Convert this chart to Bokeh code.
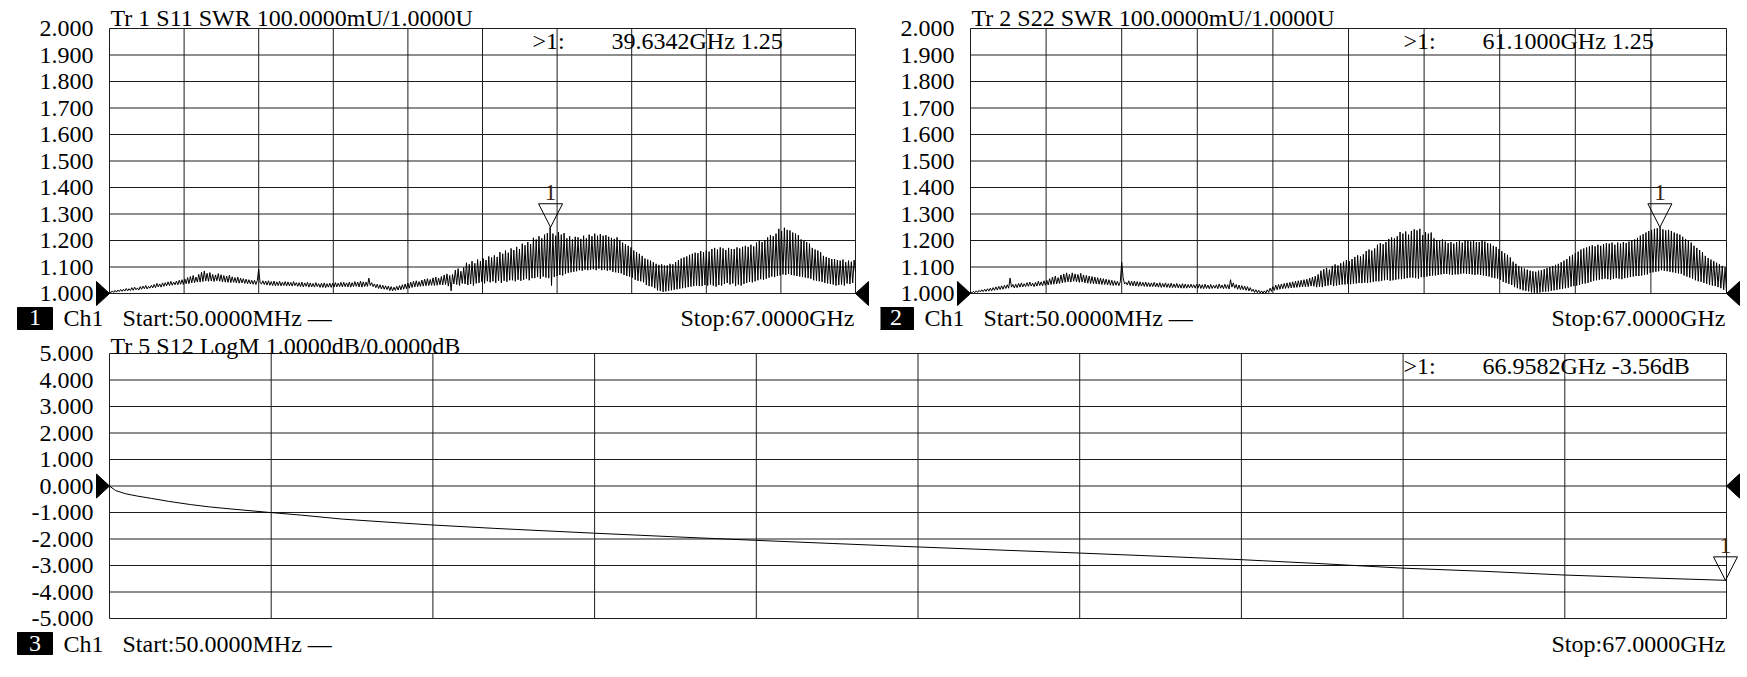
import numpy as np
from bokeh.plotting import figure
from bokeh.models import Range1d, FixedTicker, PrintfTickFormatter, Label, LinearAxis
from bokeh.layouts import column, row
from bokeh.embed import file_html
from bokeh.resources import INLINE

FONT = "Liberation Serif"
FSIZE = "24px"

# ---------------- data ----------------
f_start_ghz = 0.05
f_stop_ghz = 67.0
n_div = 10

swr_ticks = [1.0, 1.1, 1.2, 1.3, 1.4, 1.5, 1.6, 1.7, 1.8, 1.9, 2.0]
logm_ticks = [-5.0, -4.0, -3.0, -2.0, -1.0, 0.0, 1.0, 2.0, 3.0, 4.0, 5.0]

# S11 SWR trace: uniform sweep, 536 points (one row ~ 1 GHz)
s11_swr = [
    1.008, 1.003, 1.010, 1.004, 1.012, 1.005, 1.013, 1.007,
    1.015, 1.008, 1.016, 1.009, 1.019, 1.010, 1.018, 1.011,
    1.022, 1.012, 1.024, 1.014, 1.021, 1.013, 1.026, 1.016,
    1.028, 1.018, 1.030, 1.017, 1.027, 1.020, 1.031, 1.021,
    1.034, 1.022, 1.038, 1.025, 1.036, 1.024, 1.040, 1.027,
    1.041, 1.029, 1.044, 1.030, 1.046, 1.031, 1.043, 1.033,
    1.047, 1.033, 1.050, 1.035, 1.052, 1.034, 1.055, 1.037,
    1.060, 1.037, 1.064, 1.040, 1.068, 1.041, 1.062, 1.043,
    1.072, 1.043, 1.080, 1.045, 1.085, 1.047, 1.076, 1.046,
    1.079, 1.047, 1.072, 1.045, 1.070, 1.048, 1.075, 1.046,
    1.071, 1.044, 1.068, 1.043, 1.066, 1.042, 1.069, 1.041,
    1.063, 1.042, 1.060, 1.040, 1.062, 1.039, 1.058, 1.040,
    1.056, 1.038, 1.054, 1.037, 1.052, 1.036, 1.050, 1.035,
    1.050, 1.034, 1.049, 1.092, 1.040, 1.036, 1.048, 1.034,
    1.047, 1.032, 1.048, 1.031, 1.045, 1.030, 1.047, 1.029,
    1.044, 1.030, 1.046, 1.029, 1.043, 1.030, 1.045, 1.028,
    1.044, 1.029, 1.042, 1.028, 1.045, 1.030, 1.041, 1.027,
    1.041, 1.026, 1.043, 1.025, 1.040, 1.027, 1.042, 1.024,
    1.040, 1.025, 1.038, 1.024, 1.041, 1.026, 1.037, 1.023,
    1.039, 1.023, 1.040, 1.022, 1.037, 1.024, 1.039, 1.023,
    1.038, 1.024, 1.041, 1.025, 1.039, 1.026, 1.042, 1.025,
    1.042, 1.026, 1.040, 1.025, 1.043, 1.024, 1.041, 1.026,
    1.045, 1.027, 1.043, 1.025, 1.047, 1.024, 1.044, 1.026,
    1.043, 1.027, 1.058, 1.030, 1.041, 1.026, 1.036, 1.022,
    1.035, 1.019, 1.033, 1.017, 1.031, 1.016, 1.029, 1.015,
    1.028, 1.011, 1.026, 1.010, 1.024, 1.012, 1.027, 1.013,
    1.030, 1.014, 1.033, 1.016, 1.036, 1.018, 1.039, 1.020,
    1.043, 1.023, 1.046, 1.025, 1.048, 1.026, 1.045, 1.027,
    1.051, 1.028, 1.054, 1.029, 1.056, 1.030, 1.053, 1.031,
    1.059, 1.030, 1.062, 1.031, 1.058, 1.033, 1.064, 1.032,
    1.070, 1.034, 1.074, 1.028, 1.068, 1.010, 1.072, 1.036,
    1.088, 1.034, 1.094, 1.030, 1.084, 1.038, 1.098, 1.036,
    1.116, 1.032, 1.110, 1.036, 1.122, 1.030, 1.114, 1.038,
    1.128, 1.040, 1.122, 1.044, 1.132, 1.038, 1.126, 1.046,
    1.140, 1.042, 1.136, 1.046, 1.144, 1.040, 1.138, 1.048,
    1.156, 1.040, 1.150, 1.048, 1.162, 1.044, 1.154, 1.050,
    1.170, 1.050, 1.164, 1.046, 1.176, 1.052, 1.168, 1.048,
    1.188, 1.052, 1.182, 1.056, 1.194, 1.050, 1.186, 1.058,
    1.210, 1.058, 1.204, 1.062, 1.216, 1.056, 1.208, 1.064,
    1.222, 1.060, 1.228, 1.058, 1.250, 1.030, 1.226, 1.062,
    1.218, 1.066, 1.232, 1.070, 1.222, 1.068, 1.228, 1.074,
    1.208, 1.078, 1.216, 1.080, 1.204, 1.082, 1.214, 1.084,
    1.212, 1.088, 1.206, 1.086, 1.218, 1.090, 1.208, 1.088,
    1.222, 1.090, 1.216, 1.092, 1.226, 1.088, 1.218, 1.094,
    1.224, 1.088, 1.218, 1.090, 1.220, 1.086, 1.214, 1.088,
    1.210, 1.082, 1.206, 1.080, 1.212, 1.078, 1.202, 1.076,
    1.192, 1.070, 1.186, 1.066, 1.180, 1.064, 1.174, 1.060,
    1.162, 1.052, 1.156, 1.048, 1.150, 1.046, 1.142, 1.042,
    1.132, 1.032, 1.128, 1.028, 1.124, 1.026, 1.118, 1.020,
    1.112, 1.012, 1.108, 1.010, 1.110, 1.006, 1.106, 1.008,
    1.106, 1.010, 1.112, 1.012, 1.110, 1.014, 1.118, 1.016,
    1.126, 1.018, 1.132, 1.020, 1.136, 1.022, 1.140, 1.024,
    1.146, 1.026, 1.150, 1.028, 1.154, 1.030, 1.152, 1.028,
    1.160, 1.028, 1.156, 1.032, 1.162, 1.030, 1.158, 1.034,
    1.168, 1.030, 1.172, 1.026, 1.166, 1.032, 1.174, 1.030,
    1.170, 1.036, 1.164, 1.040, 1.172, 1.034, 1.168, 1.038,
    1.168, 1.028, 1.174, 1.034, 1.170, 1.030, 1.176, 1.036,
    1.180, 1.040, 1.176, 1.044, 1.184, 1.042, 1.178, 1.046,
    1.192, 1.050, 1.198, 1.054, 1.194, 1.052, 1.202, 1.056,
    1.212, 1.060, 1.220, 1.064, 1.216, 1.062, 1.226, 1.066,
    1.244, 1.068, 1.236, 1.072, 1.248, 1.070, 1.240, 1.074,
    1.238, 1.070, 1.230, 1.068, 1.226, 1.066, 1.220, 1.064,
    1.204, 1.062, 1.198, 1.060, 1.194, 1.058, 1.188, 1.056,
    1.172, 1.050, 1.166, 1.048, 1.162, 1.046, 1.156, 1.044,
    1.142, 1.040, 1.138, 1.038, 1.134, 1.036, 1.130, 1.034,
    1.130, 1.030, 1.126, 1.032, 1.124, 1.034, 1.128, 1.030,
    1.118, 1.038, 1.124, 1.036, 1.120, 1.040, 1.126, 1.080,
]

# S22 SWR trace: uniform sweep, 536 points
s22_swr = [
    1.006, 1.002, 1.008, 1.003, 1.010, 1.004, 1.012, 1.006,
    1.014, 1.007, 1.016, 1.008, 1.018, 1.009, 1.020, 1.010,
    1.022, 1.012, 1.025, 1.013, 1.027, 1.015, 1.029, 1.016,
    1.031, 1.019, 1.033, 1.020, 1.058, 1.024, 1.034, 1.021,
    1.035, 1.022, 1.038, 1.024, 1.040, 1.025, 1.037, 1.026,
    1.041, 1.027, 1.043, 1.028, 1.039, 1.026, 1.042, 1.028,
    1.046, 1.030, 1.044, 1.029, 1.048, 1.031, 1.050, 1.032,
    1.056, 1.034, 1.062, 1.035, 1.066, 1.036, 1.060, 1.038,
    1.070, 1.040, 1.074, 1.042, 1.078, 1.044, 1.072, 1.043,
    1.078, 1.046, 1.074, 1.044, 1.072, 1.042, 1.076, 1.043,
    1.070, 1.040, 1.068, 1.039, 1.066, 1.038, 1.064, 1.037,
    1.062, 1.036, 1.060, 1.035, 1.058, 1.034, 1.056, 1.034,
    1.054, 1.032, 1.052, 1.031, 1.050, 1.030, 1.048, 1.031,
    1.046, 1.030, 1.044, 1.118, 1.060, 1.036, 1.042, 1.032,
    1.048, 1.030, 1.046, 1.029, 1.047, 1.028, 1.045, 1.027,
    1.044, 1.028, 1.042, 1.027, 1.043, 1.026, 1.041, 1.026,
    1.040, 1.026, 1.042, 1.025, 1.039, 1.024, 1.041, 1.023,
    1.038, 1.024, 1.040, 1.023, 1.037, 1.022, 1.039, 1.022,
    1.036, 1.022, 1.038, 1.021, 1.035, 1.020, 1.037, 1.020,
    1.036, 1.020, 1.034, 1.021, 1.035, 1.022, 1.033, 1.020,
    1.034, 1.020, 1.036, 1.019, 1.033, 1.018, 1.035, 1.019,
    1.032, 1.018, 1.034, 1.019, 1.031, 1.020, 1.033, 1.018,
    1.036, 1.020, 1.032, 1.018, 1.035, 1.019, 1.033, 1.017,
    1.052, 1.024, 1.040, 1.020, 1.034, 1.016, 1.032, 1.015,
    1.030, 1.014, 1.028, 1.012, 1.026, 1.010, 1.022, 1.008,
    1.016, 1.004, 1.014, 1.003, 1.012, 1.002, 1.010, 1.001,
    1.010, 1.002, 1.014, 1.004, 1.020, 1.008, 1.026, 1.012,
    1.032, 1.014, 1.034, 1.016, 1.036, 1.018, 1.038, 1.019,
    1.040, 1.020, 1.042, 1.021, 1.044, 1.022, 1.046, 1.023,
    1.048, 1.024, 1.050, 1.025, 1.052, 1.026, 1.054, 1.026,
    1.058, 1.028, 1.062, 1.027, 1.066, 1.024, 1.072, 1.026,
    1.086, 1.024, 1.092, 1.028, 1.096, 1.030, 1.090, 1.032,
    1.104, 1.028, 1.110, 1.030, 1.106, 1.032, 1.114, 1.034,
    1.120, 1.034, 1.126, 1.036, 1.122, 1.035, 1.130, 1.037,
    1.138, 1.038, 1.144, 1.040, 1.140, 1.039, 1.148, 1.041,
    1.160, 1.040, 1.166, 1.042, 1.162, 1.044, 1.170, 1.046,
    1.184, 1.046, 1.190, 1.048, 1.186, 1.050, 1.194, 1.052,
    1.206, 1.048, 1.212, 1.050, 1.208, 1.052, 1.216, 1.054,
    1.232, 1.054, 1.226, 1.056, 1.234, 1.058, 1.222, 1.060,
    1.236, 1.060, 1.242, 1.058, 1.238, 1.056, 1.244, 1.062,
    1.220, 1.062, 1.232, 1.064, 1.226, 1.066, 1.230, 1.068,
    1.208, 1.068, 1.202, 1.070, 1.198, 1.072, 1.204, 1.074,
    1.196, 1.074, 1.190, 1.072, 1.194, 1.070, 1.188, 1.072,
    1.194, 1.072, 1.198, 1.074, 1.192, 1.076, 1.200, 1.074,
    1.200, 1.074, 1.196, 1.072, 1.202, 1.070, 1.194, 1.072,
    1.194, 1.070, 1.200, 1.068, 1.196, 1.066, 1.190, 1.064,
    1.188, 1.060, 1.180, 1.058, 1.176, 1.056, 1.168, 1.052,
    1.160, 1.044, 1.152, 1.040, 1.146, 1.036, 1.136, 1.032,
    1.120, 1.024, 1.112, 1.020, 1.104, 1.016, 1.098, 1.012,
    1.094, 1.010, 1.090, 1.008, 1.086, 1.004, 1.084, 1.003,
    1.082, 1.002, 1.086, 1.004, 1.088, 1.006, 1.092, 1.007,
    1.096, 1.008, 1.100, 1.010, 1.104, 1.012, 1.108, 1.014,
    1.112, 1.016, 1.118, 1.018, 1.124, 1.020, 1.130, 1.022,
    1.140, 1.026, 1.146, 1.028, 1.152, 1.030, 1.158, 1.032,
    1.166, 1.036, 1.170, 1.038, 1.174, 1.040, 1.178, 1.044,
    1.182, 1.048, 1.178, 1.050, 1.184, 1.052, 1.180, 1.054,
    1.186, 1.056, 1.190, 1.054, 1.188, 1.052, 1.192, 1.055,
    1.184, 1.058, 1.192, 1.056, 1.188, 1.054, 1.194, 1.058,
    1.190, 1.060, 1.196, 1.062, 1.200, 1.064, 1.204, 1.066,
    1.210, 1.066, 1.218, 1.068, 1.224, 1.070, 1.230, 1.072,
    1.236, 1.078, 1.240, 1.080, 1.244, 1.082, 1.246, 1.084,
    1.250, 1.088, 1.242, 1.086, 1.238, 1.084, 1.240, 1.082,
    1.236, 1.080, 1.230, 1.078, 1.226, 1.076, 1.222, 1.074,
    1.214, 1.068, 1.206, 1.064, 1.200, 1.060, 1.192, 1.056,
    1.180, 1.050, 1.172, 1.046, 1.164, 1.044, 1.156, 1.040,
    1.142, 1.036, 1.134, 1.032, 1.128, 1.030, 1.122, 1.028,
    1.116, 1.024, 1.110, 1.020, 1.104, 1.014, 1.098, 1.004,
]

# S12 LogM trace
s12_freq_ghz = [0.05, 0.3, 0.7, 1.2, 1.8, 2.5, 3.4, 4.2, 5.0, 6.7, 8.0, 9.7,
                11.5, 13.4, 16.0, 20.1, 23.5, 26.8, 30.0, 33.5, 37.0, 40.2,
                43.5, 46.9, 50.0, 53.6, 57.0, 60.3, 63.5, 67.0]
s12_logm_db = [0.0, -0.17, -0.29, -0.38, -0.47, -0.58, -0.70, -0.79, -0.86, -1.00,
               -1.10, -1.25, -1.36, -1.47, -1.60, -1.78, -1.92, -2.05, -2.17, -2.30,
               -2.42, -2.53, -2.65, -2.78, -2.92, -3.10, -3.22, -3.36, -3.46, -3.56]

# markers (frequency GHz, value)
marker_freq_ghz = [39.6342, 61.1000, 66.9582]
marker_value = [1.25, 1.25, -3.56]
marker_text = ["39.6342GHz 1.25", "61.1000GHz 1.25", "66.9582GHz -3.56dB"]

titles = ["Tr 1  S11 SWR 100.0000mU/1.0000U",
          "Tr 2  S22 SWR 100.0000mU/1.0000U",
          "Tr 5  S12 LogM 1.0000dB/0.0000dB"]
window_numbers = ["1", "2", "3"]
ref_levels = [1.0, 1.0, 0.0]
start_text = "Start:50.0000MHz \u2014"
stop_text = "Stop:67.0000GHz"

LINE = "#1c1c1c"


def make_panel(fig_w, fig_h, gl, gr, gt, gb, yr, yticks, title, win, ref,
               tx, ty, mf, mv, mtext, title_dy, status_dy):
    """gl/gr/gt/gb: pixel gaps between figure edges and the graticule."""
    grid_w = fig_w - gl - gr
    grid_h = fig_h - gt - gb
    dxp = (f_stop_ghz - f_start_ghz) / grid_w
    dyp = (yr[1] - yr[0]) / grid_h
    p = figure(width=fig_w, height=fig_h, min_border=0,
               x_range=Range1d(f_start_ghz - gl * dxp, f_stop_ghz + gr * dxp),
               y_range=Range1d(yr[0] - gb * dyp, yr[1] + gt * dyp),
               x_axis_location=None, y_axis_location=None,
               tools="", toolbar_location=None, output_backend="svg")
    p.background_fill_color = "white"
    p.border_fill_color = "white"
    p.outline_line_color = None
    p.grid.visible = False

    # value axis pinned to the left edge of the graticule
    ax = LinearAxis(fixed_location=f_start_ghz,
                    ticker=FixedTicker(ticks=yticks),
                    formatter=PrintfTickFormatter(format="%.3f"))
    ax.major_tick_in = 0
    ax.major_tick_out = 0
    ax.minor_tick_in = 0
    ax.minor_tick_out = 0
    ax.axis_line_color = None
    ax.major_label_standoff = 16
    ax.major_label_text_font = FONT
    ax.major_label_text_font_size = FSIZE
    ax.major_label_text_color = "black"
    p.add_layout(ax, "left")

    # graticule: 10 x 10 divisions
    xdiv = list(np.linspace(f_start_ghz, f_stop_ghz, n_div + 1))
    p.segment(x0=xdiv, y0=[yr[0]] * len(xdiv), x1=xdiv, y1=[yr[1]] * len(xdiv),
              line_color=LINE, line_width=1)
    p.segment(x0=[f_start_ghz] * len(yticks), y0=yticks,
              x1=[f_stop_ghz] * len(yticks), y1=yticks,
              line_color=LINE, line_width=1)

    # trace
    p.line(tx, ty, line_color="black", line_width=1)

    def lab(text, x, y, xo, yo, align="left", color="black", size=FSIZE):
        L = Label(x=x, y=y, x_offset=xo, y_offset=yo, text=text,
                  text_font=FONT, text_font_size=size, text_color=color,
                  text_align=align, text_baseline="middle")
        p.add_layout(L)
        return L

    # header line
    lab(title, f_start_ghz, yr[1], 1, title_dy)
    lab(">1:", f_stop_ghz, yr[1], -323, -12)
    lab(mtext, f_stop_ghz, yr[1], -244, -12)

    # status line: window number in a black box, channel, start, stop
    p.quad(left=[f_start_ghz - 92 * dxp], right=[f_start_ghz - 57 * dxp],
           top=[yr[0] - 14 * dyp], bottom=[yr[0] - 36 * dyp],
           fill_color="black", line_color="black")
    lab(win, f_start_ghz, yr[0], -74.5, status_dy, align="center", color="white")
    lab("Ch1", f_start_ghz, yr[0], -46, status_dy)
    lab(start_text, f_start_ghz, yr[0], 13, status_dy)
    lab(stop_text, f_stop_ghz, yr[0], -1, status_dy, align="right")

    # reference-level pointers
    p.patches(xs=[[f_start_ghz, f_start_ghz - 13 * dxp, f_start_ghz - 13 * dxp],
                  [f_stop_ghz, f_stop_ghz + 13 * dxp, f_stop_ghz + 13 * dxp]],
              ys=[[ref, ref + 12 * dyp, ref - 12 * dyp],
                  [ref, ref + 12 * dyp, ref - 12 * dyp]],
              fill_color="black", line_color="black", line_width=1)

    # marker 1
    p.patch(x=[mf, mf - 12 * dxp, mf + 12 * dxp, mf],
            y=[mv, mv + 23.5 * dyp, mv + 23.5 * dyp, mv],
            fill_color="white", fill_alpha=0.0, line_color="black", line_width=1)
    lab("1", mf, mv, 0, 35, align="center", color="#3a2614")
    return p


sweep_s11 = np.linspace(f_start_ghz, f_stop_ghz, len(s11_swr))
sweep_s22 = np.linspace(f_start_ghz, f_stop_ghz, len(s22_swr))

p1 = make_panel(880, 331, 109, 25, 28, 38, (1.0, 2.0), swr_ticks, titles[0],
                window_numbers[0], ref_levels[0], sweep_s11, s11_swr,
                marker_freq_ghz[0], marker_value[0], marker_text[0], 11, -24)
p2 = make_panel(867, 331, 90, 21, 28, 38, (1.0, 2.0), swr_ticks, titles[1],
                window_numbers[1], ref_levels[1], sweep_s22, s22_swr,
                marker_freq_ghz[1], marker_value[1], marker_text[1], 11, -24)
p3 = make_panel(1747, 345, 109, 21, 22, 58, (-5.0, 5.0), logm_ticks, titles[2],
                window_numbers[2], ref_levels[2], s12_freq_ghz, s12_logm_db,
                marker_freq_ghz[2], marker_value[2], marker_text[2], 8, -25)

layout = column(row(p1, p2, spacing=0), p3, spacing=0)

with open("out.html", "w") as fh:
    fh.write(file_html(layout, INLINE))
